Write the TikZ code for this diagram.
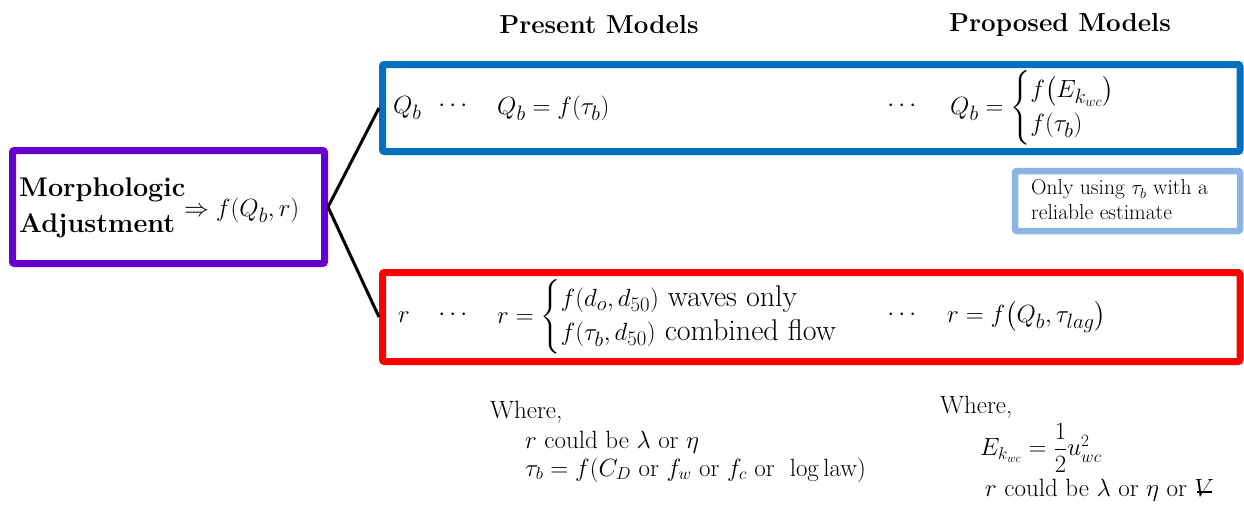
\documentclass[tikz,border=0pt]{standalone}
\usepackage{amsmath}
\definecolor{boxpurple}{HTML}{6600CC}
\definecolor{boxblue}{HTML}{0070C0}
\definecolor{boxlight}{HTML}{8EB4E3}
\definecolor{boxred}{HTML}{FF0000}
\newcommand{\strikeV}{\ooalign{$V$\cr\hidewidth\raisebox{0.3ex}{\rule{0.6em}{0.07em}}\hidewidth\cr}}
\tikzset{
  frame/.style={draw, line width=7pt, rounded corners=2pt, inner sep=0pt},
  txt/.style={inner sep=0pt, anchor=west, font=\fontsize{30}{36}\selectfont},
  casetxt/.style={inner sep=0pt, anchor=west, font=\fontsize{30}{28.5}\selectfont},
  dots/.style={inner sep=0pt, font=\fontsize{30}{36}\selectfont},
  head/.style={inner sep=0pt, font=\fontsize{26}{30}\selectfont\bfseries},
  bold/.style={inner sep=0pt, anchor=west, font=\fontsize{27}{32}\selectfont\bfseries},
  small/.style={inner sep=0pt, anchor=west, font=\fontsize{21.5}{25}\selectfont, align=left},
  note/.style={inner sep=0pt, anchor=west, font=\fontsize{25}{30}\selectfont},
  link/.style={line width=3pt}
}
\begin{document}
\begin{tikzpicture}[x=1pt,y=-1pt]
\useasboundingbox (0,0) rectangle (1244,504);
% frames
\node[frame, draw=boxpurple, minimum width=312pt, minimum height=113pt] (adj) at (168.5,207) {};
\node[frame, draw=boxblue, minimum width=857.5pt, minimum height=87pt] (qb) at (811.25,108) {};
\node[frame, line width=6.5pt, draw=boxlight, minimum width=225pt, minimum height=60pt] (note) at (1127.5,201) {};
\node[frame, draw=boxred, minimum width=857.5pt, minimum height=89pt] (rr) at (811.25,317) {};
% connectors
\draw[link] (adj.east) -- (qb.west);
\draw[link] (adj.east) -- (rr.west);
% headers
\node[head] (h1) at (599,25) {Present Models};
\node[head] (h2) at (1060,25) {Proposed Models};
% left box
\node[bold] (m1) at (19,190) {Morphologic};
\node[bold] (m2) at (19,226) {Adjustment};
\node[txt, font=\fontsize{31.5}{36}\selectfont] (m3) at (184,210) {$\Rightarrow f(Q_b,r)$};
% blue row
\node[txt] (q1) at (393,108) {$Q_b$};
\node[dots] (q2) at (455,106) {$\cdots$};
\node[txt] (q3) at (497,108) {$Q_b = f(\tau_b)$};
\node[dots] (q4) at (904,106) {$\cdots$};
\node[casetxt] (q5) at (950,108) {$Q_b = \begin{cases} f\bigl(E_{k_{wc}}\bigr)\\ f(\tau_b)\end{cases}$};
% note box
\node[small] (n1) at (1031,200) {Only using $\tau_b$ with a\\reliable estimate};
% red row
\node[txt] (r1) at (398,317) {$r$};
\node[dots] (r2) at (455,315) {$\cdots$};
\node[casetxt] (r3) at (497,317) {$r = \begin{cases} f(d_o,d_{50})\ \text{waves only}\\ f(\tau_b,d_{50})\ \text{combined flow}\end{cases}$};
\node[dots] (r4) at (904,315) {$\cdots$};
\node[txt] (r5) at (947,317) {$r = f\bigl(Q_b,\tau_{lag}\bigr)$};
% bottom notes
\node[note] (w1) at (490,412) {Where,};
\node[note] (w2) at (525,442) {$r$ could be $\lambda$ or $\eta$};
\node[note] (w3) at (525,470) {$\tau_b = f(C_D$ or $f_w$ or $f_c$ or\ \ $\log$\,law$)$};
\node[note] (w4) at (940,407) {Where,};
\node[note] (w5) at (980,448) {$E_{k_{wc}} = \dfrac{1}{2}u_{wc}^2$};
\node[note] (w6) at (985,490) {$r$ could be $\lambda$ or $\eta$ or \strikeV};
\end{tikzpicture}
\end{document}
